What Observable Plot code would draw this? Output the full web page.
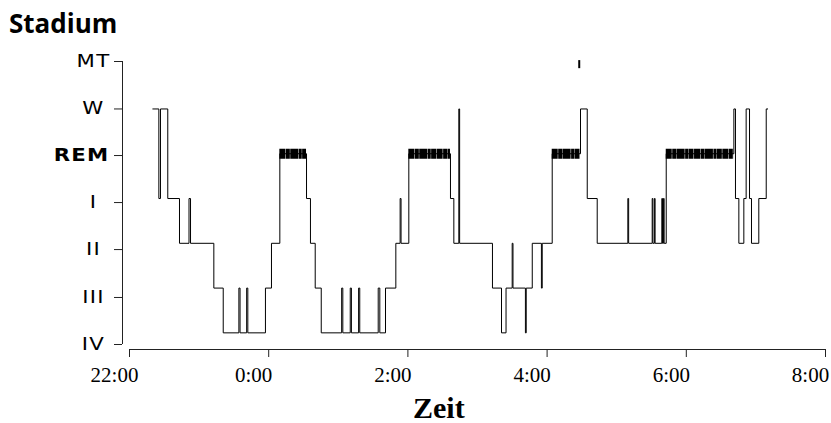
<!DOCTYPE html>
<html><head><meta charset="utf-8">
<script src="https://cdn.jsdelivr.net/npm/d3@7"></script>
<script src="https://cdn.jsdelivr.net/npm/@observablehq/plot@0.6"></script>
<style>
html,body{margin:0;padding:0;background:#fff;overflow:hidden;}
#title{font-family:"Open Sans";font-weight:700;font-size:26px;height:40px;line-height:42px;padding-top:2px;padding-left:9px;color:#000;}
#chart svg{display:block;}
#xlabel{font-family:"Liberation Serif";font-weight:700;font-size:30px;height:25px;line-height:20px;padding-left:413px;color:#000;}
</style></head><body>
<div id="title">Stadium</div>
<div id="chart"></div>
<div id="xlabel">Zeit</div>
<script>
// Stage categories, plotted levels for the hypnogram line, and the axis tick positions
const stageNames = ["IV", "III", "II", "I", "REM", "W", "MT"];
const lineLevels = [0, 1, 2, 3, 4, 5, 6];
const tickLevels = [-0.26, 0.79, 1.86, 2.91, 3.96, 5.0, 6.06];

// Time axis: minutes after 22:00
const xTicks = [0, 120, 240, 360, 480, 600];
const xTickLabels = ["22:00", "0:00", "2:00", "4:00", "6:00", "8:00"];

// Stage changes (minutes after 22:00) and the stage that starts there
const epochTimes = [20.1, 25.3, 26.7, 33.0, 43.1, 51.3, 52.6, 72.7, 80.8, 94.3, 95.3, 101.0, 102.0,
  117.2, 122.4, 129.6, 152.6, 156.0, 160.1, 165.3, 182.9, 183.9, 190.3, 191.3, 197.5, 198.5,
  214.4, 215.8, 220.7, 229.6, 233.3, 234.1, 240.8, 276.7, 279.6, 283.9, 284.6, 312.9, 320.7,
  324.6, 329.9, 330.6, 341.3, 342.0, 347.2, 355.1, 355.8, 364.4, 388.8, 394.6, 403.2, 429.6,
  430.3, 450.6, 451.2, 452.5, 453.1, 458.9, 459.5, 460.3, 460.9, 462.7, 521.0, 522.4, 525.3,
  529.6, 531.6, 534.5, 536.2, 542.5, 548.9, 550.3];
const epochStages = ["W", "I", "W", "I", "II", "I", "II", "III", "IV", "III", "IV", "III", "IV",
  "III", "II", "REM", "I", "II", "III", "IV", "III", "IV", "III", "IV", "III", "IV",
  "III", "IV", "III", "II", "I", "II", "REM", "I", "II", "W", "II", "III", "IV",
  "III", "II", "III", "IV", "III", "II", "III", "II", "REM", "W", "I", "II", "I",
  "II", "I", "II", "I", "II", "I", "II", "I", "II", "REM", "W", "I", "II",
  "I", "W", "I", "II", "I", "W", "W"];

// Movement time epochs (minutes after 22:00)
const mtTimes = [387.7];

const levelOf = s => lineLevels[stageNames.indexOf(s)];
const hyp = epochTimes.map((t, i) => ({t, level: levelOf(epochStages[i])}));
const remSegs = [];
epochStages.forEach((s, i) => {
  if (s === "REM" && i + 1 < epochTimes.length) remSegs.push({x1: epochTimes[i], x2: epochTimes[i + 1]});
});
const mtLevel = levelOf("MT");
const labelOf = d => stageNames[tickLevels.indexOf(d)];
const remTick = tickLevels[stageNames.indexOf("REM")];
const otherTicks = tickLevels.filter(d => d !== remTick);

const yFont = "DejaVu Sans";
const plot = Plot.plot({
  width: 831,
  height: 356,
  marginLeft: 129,
  marginRight: 6,
  marginTop: 19,
  marginBottom: 49,
  insetBottom: 5,
  style: {background: "#fff", color: "#000"},
  x: {domain: [xTicks[0], xTicks[xTicks.length - 1]]},
  y: {domain: [tickLevels[0], tickLevels[tickLevels.length - 1]]},
  marks: [
    // axis lines
    Plot.ruleX([xTicks[0]], {y1: tickLevels[0], y2: tickLevels[tickLevels.length - 1], dx: -7, stroke: "#222", strokeWidth: 1}),
    Plot.ruleY([tickLevels[0]], {x1: xTicks[0], x2: xTicks[xTicks.length - 1], dy: 5, stroke: "#222", strokeWidth: 1}),
    // y ticks and labels
    Plot.axisY({ticks: tickLevels, tickSize: 8, dx: -7, fill: "none", stroke: "#222", label: null}),
    Plot.axisY({ticks: otherTicks, tickSize: 0, tickPadding: 29, dx: -7, textAnchor: "middle", tickFormat: labelOf,
      fontFamily: yFont, fontSize: 17, label: null}),
    Plot.axisY({ticks: [remTick], tickSize: 0, tickPadding: 13, dx: -7, textAnchor: "end", tickFormat: labelOf,
      fontFamily: yFont, fontWeight: "bold", fontSize: 17, label: null}),
    // x ticks and labels
    Plot.axisX({ticks: xTicks, tickSize: 8, fill: "none", stroke: "#222", label: null}),
    Plot.axisX({ticks: xTicks, tickSize: 0, tickPadding: 18, dx: -15,
      tickFormat: d => xTickLabels[xTicks.indexOf(d)], fontFamily: "Liberation Serif", fontSize: 21, label: null}),
    // REM periods as thick bars
    Plot.ruleY(remSegs, {x1: "x1", x2: "x2", y: levelOf("REM"), stroke: "#000", strokeWidth: 10,
      strokeDasharray: "6,0.5,4,0.4,8,0.5,3,0.4,5,0.5"}),
    // hypnogram step line
    Plot.line(hyp, {x: "t", y: "level", curve: "step-after", stroke: "#000", strokeWidth: 1}),
    // movement time marks
    Plot.ruleX(mtTimes, {y1: mtLevel - 0.1, y2: mtLevel + 0.08, stroke: "#000", strokeWidth: 2})
  ]
});
document.getElementById("chart").appendChild(plot);
d3.select(plot).selectAll('g[aria-label="y-axis tick label"] text')
  .style("letter-spacing", "1px")
  .each(function () {
    const t = this.getAttribute("transform");
    if (t) this.setAttribute("transform", t + " scale(1.25,1)");
  });
</script>
</body></html>
